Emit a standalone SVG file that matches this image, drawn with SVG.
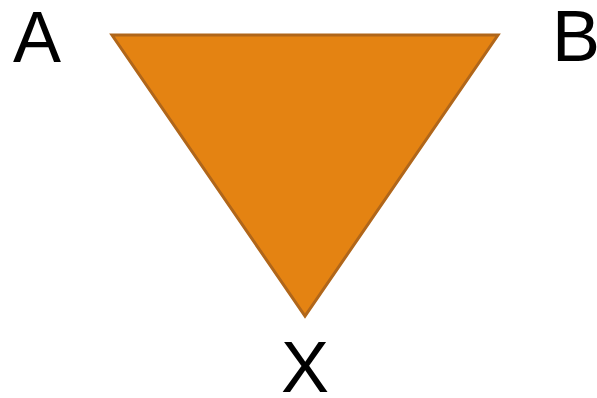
<svg xmlns="http://www.w3.org/2000/svg" width="597" height="398" viewBox="0 0 597 398">
<style>
.lbl{font-family:"Liberation Sans",Arial,sans-serif;font-size:72px;fill:#000;text-anchor:middle}
</style>
<rect width="597" height="398" fill="#fff"/>
<g id="triangle">
<polygon points="112,35 498,35 305,316" fill="#E48312" stroke="#B0661A" stroke-width="3" stroke-linejoin="miter"/>
</g>
<g id="label-A"><text class="lbl" x="37" y="62">A</text></g>
<g id="label-B"><text class="lbl" x="576" y="61">B</text></g>
<g id="label-X"><text class="lbl" x="305" y="392">X</text></g>
</svg>
